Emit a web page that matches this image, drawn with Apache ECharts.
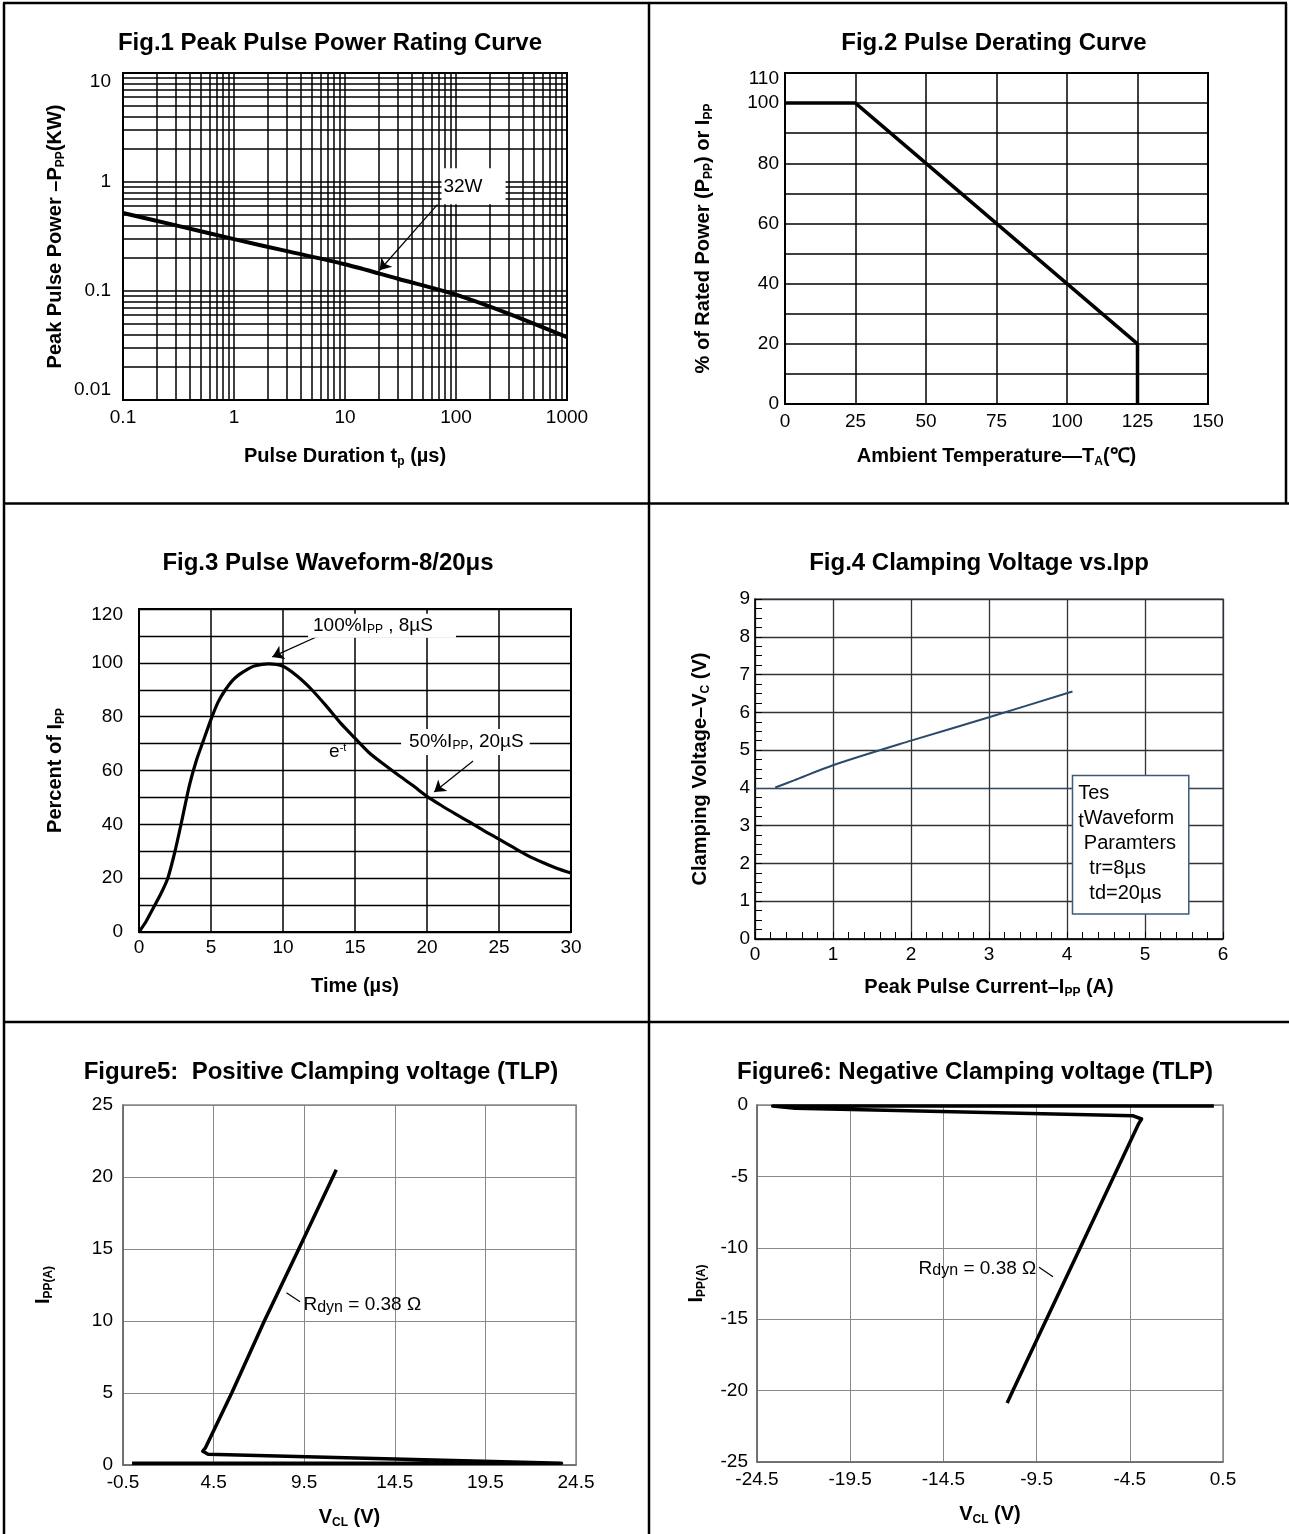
<!DOCTYPE html>
<html><head><meta charset="utf-8">
<script src="https://cdn.jsdelivr.net/npm/echarts@6/dist/echarts.min.js"></script>
<style>html,body{margin:0;padding:0;background:#fff}#c{width:1289px;height:1534px}</style>
</head><body><div id="c"></div>
<script>
// ---------- Fig.1 Peak Pulse Power Rating Curve ----------
const fig1Duration = [0.1, 0.3, 1, 3, 10, 30, 100, 300, 1000];
const fig1Power = [0.52, 0.40, 0.299, 0.232, 0.176, 0.1295, 0.0925, 0.0617, 0.0377];
const fig1Decades = [0.1, 1, 10, 100];
const fig1YDecades = [0.01, 0.1, 1];
const logMinorSteps = [2, 3, 4, 5, 6, 7, 8, 9];
const fig1LabelPos = [74, 0.913];
const fig1ArrowFrom = [68, 0.62];
const fig1ArrowTo = [20.5, 0.155];

// ---------- Fig.2 Pulse Derating Curve ----------
const fig2Temp = [0, 25, 125, 125];
const fig2Percent = [100, 100, 20, 0];

// ---------- Fig.3 Pulse Waveform-8/20us ----------
const fig3Time = [0, 0.5, 1, 1.5, 2, 2.5, 3, 3.5, 4, 4.5, 5, 5.5, 6, 6.5, 7, 7.5, 8, 9, 10, 11, 12, 13, 14, 15, 16, 17, 18, 19, 20, 21, 22, 23, 24, 25, 26, 27, 28, 29, 30];
const fig3Percent = [0, 4, 9, 14, 20, 30, 42, 54.5, 64, 71.5, 79, 85.5, 90, 93.5, 95.8, 97.5, 98.8, 99.6, 98.7, 95, 90, 84, 77.6, 72, 66.5, 62.3, 58.3, 54.5, 50.4, 47, 43.8, 40.7, 37.5, 34.5, 31.4, 28.4, 25.9, 23.7, 21.9];
const fig3PeakLabelPos = [11.74, 113.8];
const fig3PeakArrowFrom = [12.77, 110.7];
const fig3PeakArrowTo = [9.26, 102.2];
const fig3HalfLabelPos = [18.2, 70.6];
const fig3HalfArrowFrom = [23.2, 63.5];
const fig3HalfArrowTo = [20.5, 52.0];
const fig3ExpLabelPos = [13.2, 66.8];

// ---------- Fig.4 Clamping Voltage vs. Ipp ----------
const fig4Current = [0.26, 0.5, 1, 2, 3, 4.07];
const fig4Voltage = [4.01, 4.2, 4.6, 5.25, 5.87, 6.55];
const fig4RefVoltage = 4;
const fig4BoxPos = [4.08, 4.31];

// ---------- Figure5 Positive clamping (TLP) ----------
const fig5Voltage = [0.0, 23.7, 23.7, 4.2, 3.9, 4.05, 5.5, 7.3, 9.2, 11.27];
const fig5Current = [0.12, 0.12, 0.25, 0.75, 0.95, 1.2, 5, 10, 15, 20.5];
const fig5LabelPos = [9.46, 11.1];
const fig5LeaderFrom = [8.52, 11.97];
const fig5LeaderTo = [9.27, 11.34];

// ---------- Figure6 Negative clamping (TLP) ----------
const fig6Voltage = [0.01, -23.66, -22.45, -4.35, -3.87, -4.02, -5.36, -7.16, -8.97, -10.77, -11.08];
const fig6Current = [-0.07, -0.07, -0.23, -0.75, -0.98, -1.3, -5, -10, -15, -20, -20.86];
const fig6LabelPos = [-15.83, -11.44];
const fig6LeaderFrom = [-9.37, -11.37];
const fig6LeaderTo = [-8.62, -12.03];

// ---------- titles ----------
const titles = [
  'Fig.1 Peak Pulse Power Rating Curve',
  'Fig.2 Pulse Derating Curve',
  'Fig.3 Pulse Waveform-8/20μs',
  'Fig.4 Clamping Voltage vs.Ipp',
  'Figure5:  Positive Clamping voltage (TLP)',
  'Figure6: Negative Clamping voltage (TLP)'
];

const FONT = "'Liberation Sans', Arial, Helvetica, sans-serif";
const zip = (a, b) => a.map((v, i) => [v, b[i]]);
function merge(t, s) {
  for (const k in s) {
    if (s[k] && typeof s[k] === 'object' && !Array.isArray(s[k]) && t[k] && typeof t[k] === 'object' && !Array.isArray(t[k])) merge(t[k], s[k]);
    else t[k] = s[k];
  }
  return t;
}
const nameRich = {
  b: {fontSize: 20, fontWeight: 'bold', color: '#000', fontFamily: FONT, lineHeight: 24},
  s: {fontSize: 12, fontWeight: 'bold', color: '#000', fontFamily: FONT, lineHeight: 13, verticalAlign: 'bottom'}
};
const labelRich = {
  dn: {fontSize: 19, color: '#000', fontFamily: FONT, padding: [18, 0, 0, 0]},
  dn2: {fontSize: 19, color: '#000', fontFamily: FONT, padding: [12, 0, 0, 0]},
  up: {fontSize: 19, color: '#000', fontFamily: FONT, padding: [0, 0, 20, 0]}
};
function axis(o) {
  return merge({
    nameLocation: 'middle',
    nameTextStyle: {rich: nameRich},
    axisLine: {show: true, onZero: false, lineStyle: {color: '#000', width: 2}},
    axisTick: {show: false},
    axisLabel: {color: '#000', fontSize: 19, fontFamily: FONT, showMinLabel: true, showMaxLabel: true, hideOverlap: false, rich: labelRich},
    splitLine: {show: true, lineStyle: {color: '#000', width: 1.5}}
  }, o);
}
const num = v => String(+(+v).toPrecision(6));
const near = (a, b) => Math.abs(a - b) < 1e-9 * Math.max(1, Math.abs(b));

const grids = [
  {left: 123, top: 73, width: 444, height: 327, show: true, borderColor: '#000', borderWidth: 2},
  {left: 785, top: 73, width: 423, height: 331, show: true, borderColor: '#000', borderWidth: 2},
  {left: 139, top: 609, width: 432, height: 323, show: true, borderColor: '#000', borderWidth: 2},
  {left: 755, top: 599, width: 468, height: 340, show: true, borderColor: '#6c8199', borderWidth: 1.5},
  {left: 123, top: 1105, width: 453, height: 360, show: true, borderColor: '#888', borderWidth: 1.5},
  {left: 757, top: 1105, width: 466, height: 357, show: true, borderColor: '#888', borderWidth: 1.5}
].map(g => Object.assign(g, {containLabel: false, outerBoundsMode: 'none', backgroundColor: 'transparent'}));

const titleCenters = [[330, 31], [994, 31], [328, 551], [979, 551], [321, 1060], [975, 1060]];

const xAxes = [
  axis({gridIndex: 0, type: 'log', logBase: 10, min: 0.1, max: 1000,
    name: '{b|Pulse Duration t}{s|p}{b| (µs)}', nameGap: 44,
    axisLabel: {margin: 8, formatter: v => num(v)}}),
  axis({gridIndex: 1, type: 'value', min: 0, max: 150, interval: 25,
    name: '{b|Ambient Temperature—T}{s|A}{b|(℃)}', nameGap: 40,
    axisLabel: {margin: 8}}),
  axis({gridIndex: 2, type: 'value', min: 0, max: 30, interval: 5,
    name: '{b|Time (µs)}', nameGap: 42, axisLabel: {margin: 6}}),
  axis({gridIndex: 3, type: 'value', min: 0, max: 6, interval: 1,
    name: '{b|Peak Pulse Current–I}{s|PP}{b| (A)}', nameGap: 36,
    axisLine: {lineStyle: {width: 1.5}},
    axisTick: {show: true, inside: true, length: 7, lineStyle: {color: '#000', width: 1}},
    minorTick: {show: true, splitNumber: 5, length: 7, lineStyle: {color: '#000', width: 1}},
    axisLabel: {margin: 6},
    splitLine: {lineStyle: {color: '#333', width: 1.3}}}),
  axis({gridIndex: 4, type: 'value', min: -0.5, max: 24.5, interval: 5,
    name: '{b|V}{s|CL}{b| (V)}', nameGap: 40,
    axisLine: {lineStyle: {color: '#666', width: 1.5}},
    axisLabel: {margin: 8, formatter: v => num(v)},
    splitLine: {lineStyle: {color: '#888', width: 1}}}),
  axis({gridIndex: 5, type: 'value', min: -24.5, max: 0.5, interval: 5,
    name: '{b|V}{s|CL}{b| (V)}', nameGap: 40,
    axisLine: {lineStyle: {color: '#666', width: 1.5}},
    axisLabel: {margin: 8, formatter: v => num(v)},
    splitLine: {lineStyle: {color: '#888', width: 1}}})
];

const yAxes = [
  axis({gridIndex: 0, type: 'log', logBase: 10, min: 0.01, max: 10,
    name: '{b|Peak Pulse Power –P}{s|PP}{b|(KW)}', nameGap: 56, nameRotate: 90,
    axisLabel: {margin: 12, formatter: v => near(v, 10) ? '{dn|10}' : near(v, 0.01) ? '{up|0.01}' : num(v)}}),
  axis({gridIndex: 1, type: 'value', min: 0, max: 110, interval: 10,
    name: '{b|% of Rated Power (P}{s|PP}{b|) or I}{s|PP}', nameGap: 70, nameRotate: 90,
    axisLabel: {margin: 6, formatter: v => v === 110 ? '{dn2|110}' : (v % 20 === 0 ? String(v) : '')}}),
  axis({gridIndex: 2, type: 'value', min: 0, max: 120, interval: 10,
    name: '{b|Percent of I}{s|PP}', nameGap: 72, nameRotate: 90,
    axisLabel: {margin: 16, formatter: v => v === 120 ? '{dn2|120}' : (v % 20 === 0 ? String(v) : '')},
    splitLine: {lineStyle: {width: 1.3}}}),
  axis({gridIndex: 3, type: 'value', min: 0, max: 9, interval: 1,
    name: '{b|Clamping Voltage–V}{s|C}{b| (V)}', nameGap: 43, nameRotate: 90,
    axisLine: {lineStyle: {width: 1.5}},
    axisTick: {show: true, inside: true, length: 7, lineStyle: {color: '#000', width: 1}},
    minorTick: {show: true, splitNumber: 4, length: 7, lineStyle: {color: '#000', width: 1}},
    axisLabel: {margin: 5},
    splitLine: {lineStyle: {color: '#333', width: 1.3}}}),
  axis({gridIndex: 4, type: 'value', min: 0, max: 25, interval: 5,
    name: '{b|I}{s|PP(A)}', nameGap: 68, nameRotate: 90,
    axisLine: {lineStyle: {color: '#666', width: 1.5}},
    axisLabel: {margin: 10},
    splitLine: {lineStyle: {color: '#888', width: 1}}}),
  axis({gridIndex: 5, type: 'value', min: -25, max: 0, interval: 5,
    name: '{b|I}{s|PP(A)}', nameGap: 49, nameRotate: 90,
    axisLine: {lineStyle: {color: '#666', width: 1.5}},
    axisLabel: {margin: 9},
    splitLine: {lineStyle: {color: '#888', width: 1}}})
];

const fig1MinorX = [];
fig1Decades.forEach(d => logMinorSteps.forEach(m => fig1MinorX.push(+(d * m).toPrecision(6))));
const fig1MinorY = [];
fig1YDecades.forEach(d => logMinorSteps.forEach(m => fig1MinorY.push(+(d * m).toPrecision(6))));

const annRich = {
  n: {fontSize: 19, color: '#000', fontFamily: FONT, lineHeight: 20},
  s: {fontSize: 12, color: '#000', fontFamily: FONT, lineHeight: 12, verticalAlign: 'bottom'},
  p: {fontSize: 11, color: '#000', fontFamily: FONT, lineHeight: 11, verticalAlign: 'top'},
  d: {fontSize: 16, color: '#000', fontFamily: FONT, lineHeight: 15, verticalAlign: 'bottom', padding: [8, 0, 0, 0]},
  t: {fontSize: 20, color: '#000', fontFamily: FONT, lineHeight: 13, verticalAlign: 'bottom', padding: [12, 0, 0, 0]},
  w: {fontSize: 20, color: '#000', fontFamily: FONT, lineHeight: 25}
};
const arrowLine = (pairs, arrow) => ({
  silent: true, animation: false,
  symbol: arrow ? ['none', 'arrow'] : ['none', 'none'], symbolSize: 11,
  label: {show: false}, emphasis: {disabled: true},
  lineStyle: {color: '#000', width: 1.2, type: 'solid', opacity: 1},
  data: pairs.map(p => [{coord: p[0]}, {coord: p[1]}])
});
const labelPoint = (xi, data, pairs, arrow) => ({
  type: 'scatter', xAxisIndex: xi, yAxisIndex: xi, symbolSize: 0, z: 6, silent: true,
  itemStyle: {opacity: 1, color: '#000'},
  emphasis: {disabled: true},
  data: data,
  label: {show: true, position: 'right', distance: 0, color: '#000', fontSize: 19, fontFamily: FONT, rich: annRich},
  markLine: pairs ? arrowLine(pairs, arrow) : undefined
});

const series = [
  {type: 'line', xAxisIndex: 0, yAxisIndex: 0, data: zip(fig1Duration, fig1Power), symbol: 'none', z: 3, smooth: 0.3,
    lineStyle: {color: '#000', width: 4},
    markLine: {silent: true, symbol: 'none', label: {show: false}, emphasis: {disabled: true},
      lineStyle: {color: '#000', width: 1.5, type: 'solid', opacity: 1},
      data: fig1MinorX.map(v => ({xAxis: v})).concat(fig1MinorY.map(v => ({yAxis: v})))}},
  labelPoint(0, [{value: fig1LabelPos, label: {formatter: '{n|32W}', backgroundColor: '#fff', padding: [8, 23, 8, 2]}}],
    [[fig1ArrowFrom, fig1ArrowTo]], true),

  {type: 'line', xAxisIndex: 1, yAxisIndex: 1, data: zip(fig2Temp, fig2Percent), symbol: 'none', z: 3,
    lineStyle: {color: '#000', width: 3.5}},

  {type: 'line', xAxisIndex: 2, yAxisIndex: 2, data: zip(fig3Time, fig3Percent), symbol: 'none', z: 3,
    smooth: 0.25,
    lineStyle: {color: '#000', width: 3.2}},
  labelPoint(2, [
    {value: fig3PeakLabelPos, label: {formatter: '{n|100%I}{s|PP}{n| , 8µS}', backgroundColor: '#fff', padding: [2, 23, 2, 5]}},
    {value: fig3HalfLabelPos, label: {formatter: '{n|50%I}{s|PP}{n|, 20µS}', backgroundColor: '#fff', padding: [3, 6, 3, 8]}},
    {value: fig3ExpLabelPos, label: {formatter: '{n|e}{p|-t}'}}
  ], [[fig3PeakArrowFrom, fig3PeakArrowTo], [fig3HalfArrowFrom, fig3HalfArrowTo]], true),

  {type: 'line', xAxisIndex: 3, yAxisIndex: 3, data: zip(fig4Current, fig4Voltage), symbol: 'none', z: 3, smooth: 0.3,
    lineStyle: {color: '#2b4a6b', width: 2},
    markLine: {silent: true, symbol: 'none', label: {show: false}, emphasis: {disabled: true},
      lineStyle: {color: '#2b4a6b', width: 1.2, type: 'solid', opacity: 1}, data: [{yAxis: fig4RefVoltage}]}},
  {type: 'scatter', xAxisIndex: 3, yAxisIndex: 3, symbolSize: 0, z: 6, silent: true,
    itemStyle: {opacity: 1, color: '#000'}, emphasis: {disabled: true},
    data: [fig4BoxPos],
    label: {show: true, position: [0, 0], align: 'left', verticalAlign: 'top', color: '#000',
      backgroundColor: '#fff', borderColor: '#3d5a78', borderWidth: 1.5, padding: [5, 12, 7, 5],
      rich: annRich,
      formatter: '{w|Tes}\n{t|t}{w|Waveform}\n{w| Paramters}\n{w|  tr=8µs}\n{w|  td=20µs}'}},

  {type: 'line', xAxisIndex: 4, yAxisIndex: 4, data: zip(fig5Voltage, fig5Current), symbol: 'none', z: 3,
    lineStyle: {color: '#000', width: 3.5, join: 'round'}},
  labelPoint(4, [{value: fig5LabelPos, label: {formatter: '{n|R}{d|dyn}{n| = 0.38 Ω}'}}], [[fig5LeaderFrom, fig5LeaderTo]], false),

  {type: 'line', xAxisIndex: 5, yAxisIndex: 5, data: zip(fig6Voltage, fig6Current), symbol: 'none', z: 3,
    lineStyle: {color: '#000', width: 3.5, join: 'round'}},
  labelPoint(5, [{value: fig6LabelPos, label: {formatter: '{n|R}{d|dyn}{n| = 0.38 Ω}'}}], [[fig6LeaderFrom, fig6LeaderTo]], false)
];

const B = {stroke: '#000', lineWidth: 2.5};
const border = (x1, y1, x2, y2) => ({type: 'line', shape: {x1, y1, x2, y2}, style: B, silent: true, z: 10});

const option = {
  animation: false,
  backgroundColor: '#fff',
  textStyle: {fontFamily: FONT},
  title: titles.map((t, i) => ({
    text: t, left: titleCenters[i][0], top: titleCenters[i][1], textAlign: 'center', padding: 0,
    textStyle: {fontSize: 24, fontWeight: 'bold', color: '#000', fontFamily: FONT}
  })),
  grid: grids,
  xAxis: xAxes,
  yAxis: yAxes,
  series: series,
  graphic: [
    border(3, 3, 1287, 3),
    border(4, 3, 4, 1534),
    border(649, 3, 649, 1534),
    border(1286, 3, 1286, 503.5),
    border(4, 503.5, 1289, 503.5),
    border(4, 1022, 1289, 1022)
  ]
};

const chart = echarts.init(document.getElementById('c'), null, {renderer: 'canvas', width: 1289, height: 1534});
chart.setOption(option);
</script>
</body></html>
